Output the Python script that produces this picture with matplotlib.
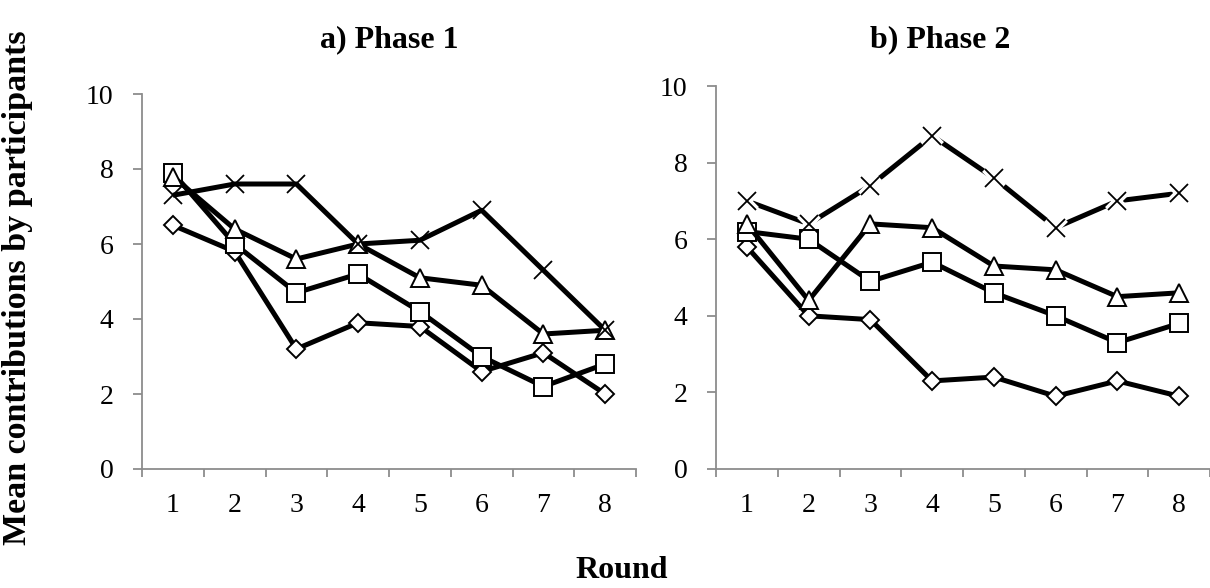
import matplotlib
matplotlib.use("Agg")
import matplotlib.pyplot as plt

rounds = [1, 2, 3, 4, 5, 6, 7, 8]
round_labels = ["1", "2", "3", "4", "5", "6", "7", "8"]

# Phase 1
p1_diamond = [6.5, 5.8, 3.2, 3.9, 3.8, 2.6, 3.1, 2.0]
p1_square = [7.9, 6.0, 4.7, 5.2, 4.2, 3.0, 2.2, 2.8]
p1_triangle = [7.8, 6.4, 5.6, 6.0, 5.1, 4.9, 3.6, 3.7]
p1_cross = [7.3, 7.6, 7.6, 6.0, 6.1, 6.9, 5.3, 3.7]

# Phase 2
p2_diamond = [5.8, 4.0, 3.9, 2.3, 2.4, 1.9, 2.3, 1.9]
p2_square = [6.2, 6.0, 4.9, 5.4, 4.6, 4.0, 3.3, 3.8]
p2_triangle = [6.4, 4.4, 6.4, 6.3, 5.3, 5.2, 4.5, 4.6]
p2_cross = [7.0, 6.4, 7.4, 8.7, 7.6, 6.3, 7.0, 7.2]

yticks = [0, 2, 4, 6, 8, 10]

plt.rcParams['font.family'] = ['Liberation Serif', 'DejaVu Serif']

W, H = 1210, 588
fig = plt.figure(figsize=(W / 100, H / 100), dpi=100)

def ax_rect(x0, x1, ytop, ybot):
    return [x0 / W, 1 - ybot / H, (x1 - x0) / W, (ybot - ytop) / H]

ax1 = fig.add_axes(ax_rect(142, 636, 94, 469))
ax2 = fig.add_axes(ax_rect(716, 1210, 86, 469))

gray = '#8c8c8c'
lw = 3.6

def style(ax):
    ax.set_xlim(0.5, 8.5)
    ax.set_ylim(0, 10)
    for s in ['top', 'right']:
        ax.spines[s].set_visible(False)
    for s in ['left', 'bottom']:
        ax.spines[s].set_color(gray)
        ax.spines[s].set_linewidth(1.3)
    ax.set_yticks(yticks)
    ax.set_yticklabels([str(v) for v in yticks], fontsize=20)
    ax.tick_params(axis='y', direction='out', length=6.5, width=1.3, color=gray, pad=14)
    ax.set_xticks([r + 0.5 for r in [0] + rounds])
    ax.set_xticklabels([])
    ax.tick_params(axis='x', which='major', direction='out', length=6, width=1.3, color=gray)
    ax.set_xticks(rounds, minor=True)
    ax.set_xticklabels(round_labels, minor=True, fontsize=20)
    ax.tick_params(axis='x', which='minor', length=0, pad=17)

def draw_series(ax, vals, marker, ms, gap=False):
    if marker == 'x':
        ax.plot(rounds, vals, color='black', lw=lw, solid_capstyle='butt', zorder=2, clip_on=False)
        if gap:
            ax.plot(rounds, vals, ls='none', marker='x', ms=ms, mew=6,
                    mec='white', zorder=3, clip_on=False)
        ax.plot(rounds, vals, ls='none', marker='x', ms=ms, mew=1.3,
                mec='black', zorder=4, clip_on=False)
    else:
        ax.plot(rounds, vals, color='black', lw=lw, marker=marker, ms=ms,
                mfc='white', mec='black', mew=1.4, zorder=3, clip_on=False)

for ax, d, s, t, c, gap in [(ax1, p1_diamond, p1_square, p1_triangle, p1_cross, False),
                            (ax2, p2_diamond, p2_square, p2_triangle, p2_cross, True)]:
    style(ax)
    draw_series(ax, c, 'x', 13, gap)
    draw_series(ax, d, 'D', 9.5)
    draw_series(ax, s, 's', 13)
    draw_series(ax, t, '^', 13)

fig.text(389 / W, 1 - 40 / H, "a) Phase 1", ha='center', va='center', fontsize=23, fontweight='bold')
fig.text(940 / W, 1 - 40 / H, "b) Phase 2", ha='center', va='center', fontsize=23, fontweight='bold')
fig.text(622 / W, 1 - 570 / H, "Round", ha='center', va='center', fontsize=23, fontweight='bold')
fig.text(18 / W, 1 - 288 / H, "Mean contributions by participants", ha='center', va='center',
         rotation=90, fontsize=24.5, fontweight='bold')

fig.savefig("out.png", dpi=100)
